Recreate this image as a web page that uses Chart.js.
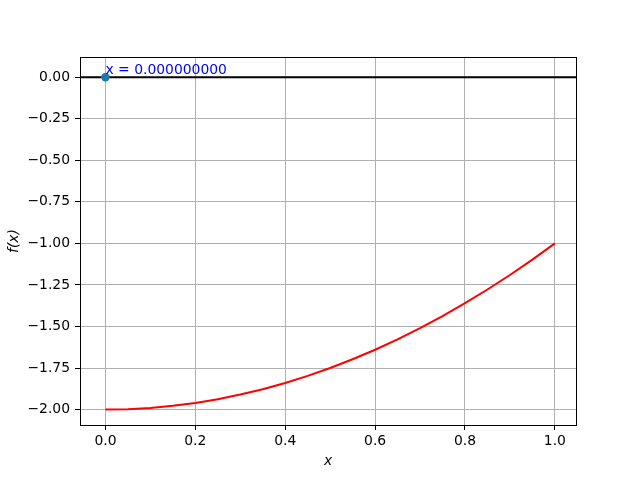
<!DOCTYPE html>
<html>
<head>
<meta charset="utf-8">
<script src="https://cdn.jsdelivr.net/npm/chart.js@4"></script>
<style>
  html, body { margin: 0; padding: 0; background: #fff; }
  #wrap { width: 640px; height: 478px; }
</style>
</head>
<body>
<div id="wrap"><canvas id="chart" width="640" height="478"></canvas></div>
<script>
// curve values
const curveX = [0, 0.05, 0.1, 0.15, 0.2, 0.25, 0.3, 0.35, 0.4, 0.45, 0.5,
                0.55, 0.6, 0.65, 0.7, 0.75, 0.8, 0.85, 0.9, 0.95, 1.0];
const curveY = [-2, -1.9975, -1.99, -1.9775, -1.96, -1.9375, -1.91, -1.8775, -1.84, -1.7975, -1.75,
                -1.6975, -1.64, -1.5775, -1.51, -1.4375, -1.36, -1.2775, -1.19, -1.0975, -1.0];

// root marker and its label
const rootX = [0];
const rootY = [0];
const rootLabel = 'x = 0.000000000';

// axis limits and ticks
const xLimits = [-0.0566, 1.047];
const yLimits = [-2.093, 0.122];
const xTicks = [0, 0.2, 0.4, 0.6, 0.8, 1.0];
const yTicks = [0, -0.25, -0.5, -0.75, -1.0, -1.25, -1.5, -1.75, -2.0];

const font = 'DejaVu Sans';
const fontSize = 13.9;

const frame = {
    id: 'frame',
    afterDatasetsDraw(chart) {
        const ctx = chart.ctx;
        const a = chart.chartArea;
        const xs = chart.scales.x, ys = chart.scales.y;
        // annotation text
        ctx.save();
        ctx.fillStyle = '#0000ff';
        ctx.font = fontSize + 'px "' + font + '"';
        ctx.textBaseline = 'alphabetic';
        ctx.textAlign = 'left';
        ctx.fillText(rootLabel, xs.getPixelForValue(rootX[0]), ys.getPixelForValue(rootY[0]) - 3);
        // box around axes
        ctx.strokeStyle = '#000';
        ctx.lineWidth = 1;
        ctx.strokeRect(Math.round(a.left) + 0.5, Math.round(a.top) + 0.5,
                       Math.round(a.right - a.left), Math.round(a.bottom - a.top));
        ctx.restore();
    }
};

new Chart(document.getElementById('chart').getContext('2d'), {
    type: 'line',
    data: {
        datasets: [
            {
                type: 'line',
                data: xLimits.map(x => ({ x: x, y: 0 })),
                borderColor: '#000',
                borderWidth: 2,
                pointRadius: 0,
                order: 3
            },
            {
                type: 'line',
                data: curveX.map((x, i) => ({ x: x, y: curveY[i] })),
                borderColor: '#ff0000',
                borderWidth: 2,
                pointRadius: 0,
                tension: 0,
                order: 2
            },
            {
                type: 'scatter',
                data: rootX.map((x, i) => ({ x: x, y: rootY[i] })),
                backgroundColor: '#1f77b4',
                borderColor: '#1f77b4',
                pointRadius: 4.2,
                borderWidth: 0,
                order: 1
            }
        ]
    },
    options: {
        responsive: false,
        animation: false,
        events: [],
        layout: { padding: { top: 57, right: 64, left: 0, bottom: 0 } },
        plugins: {
            legend: { display: false },
            tooltip: { enabled: false }
        },
        scales: {
            x: {
                type: 'linear',
                min: xLimits[0],
                max: xLimits[1],
                afterBuildTicks: s => { s.ticks = xTicks.map(v => ({ value: v })); },
                afterFit: s => { s.height = 53; },
                ticks: {
                    color: '#000',
                    font: { family: font, size: fontSize },
                    padding: 3,
                    maxRotation: 0,
                    callback: v => v.toFixed(1)
                },
                grid: { color: '#b0b0b0', lineWidth: 1, tickColor: '#000', tickLength: 5 },
                border: { color: '#000', width: 1 },
                title: {
                    display: true,
                    text: 'x',
                    color: '#000',
                    font: { family: font, size: fontSize, style: 'italic' },
                    padding: { top: 0, bottom: 8 }
                }
            },
            y: {
                type: 'linear',
                min: yLimits[0],
                max: yLimits[1],
                afterBuildTicks: s => { s.ticks = yTicks.map(v => ({ value: v })); },
                afterFit: s => { s.width = 80; },
                ticks: {
                    color: '#000',
                    font: { family: font, size: fontSize },
                    padding: 5,
                    callback: v => (v < 0 ? '\u2212' : '') + Math.abs(v).toFixed(2)
                },
                grid: { color: '#b0b0b0', lineWidth: 1, tickColor: '#000', tickLength: 5 },
                border: { color: '#000', width: 1 },
                title: {
                    display: true,
                    text: 'f(x)',
                    color: '#000',
                    font: { family: font, size: fontSize, style: 'italic' },
                    padding: { top: 6, bottom: 0 }
                }
            }
        }
    },
    plugins: [frame]
});
</script>
</body>
</html>
